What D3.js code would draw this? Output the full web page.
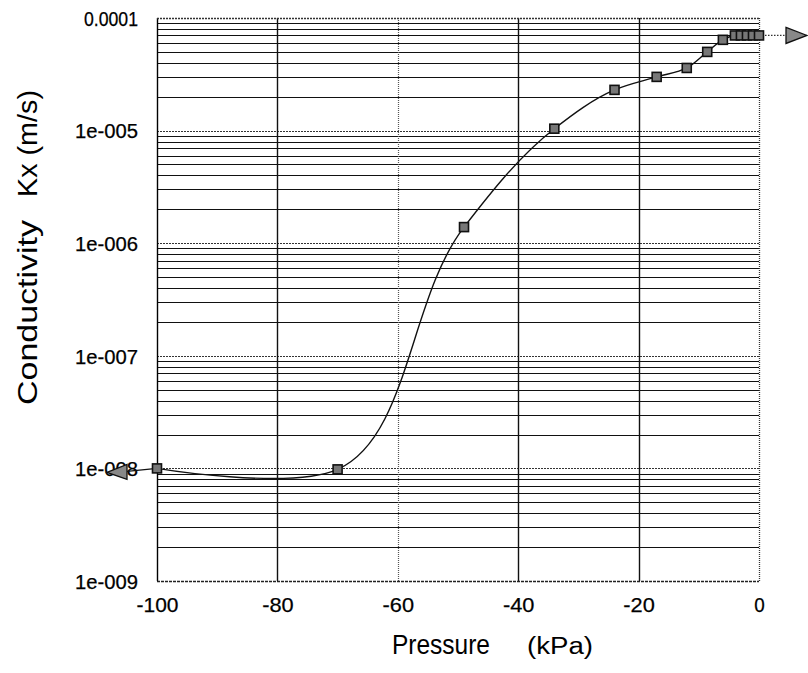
<!DOCTYPE html>
<html><head><meta charset="utf-8">
<script src="https://cdn.jsdelivr.net/npm/d3@7"></script>
<style>
body{margin:0;background:#fff;}
text{font-family:"Liberation Sans",Arial,sans-serif;fill:#000;}
</style></head>
<body><svg id="c" width="808" height="673"></svg>
<script>
// Data
const pressure     = [-100, -70, -49, -34, -24, -17, -12, -8.6, -6, -4, -3, -2, -1, 0];
const conductivity = [1e-8, 9.8e-9, 1.39e-6, 1.04e-5, 2.3e-5, 3.0e-5, 3.6e-5, 5.0e-5, 6.4e-5, 7e-5, 7e-5, 7e-5, 7e-5, 7e-5];
const xTickValues = [-100, -80, -60, -40, -20, 0];
const xTickLabels = ["-100", "-80", "-60", "-40", "-20", "0"];
const yTickValues = [1e-9, 1e-8, 1e-7, 1e-6, 1e-5, 1e-4];
const yTickLabels = ["1e-009", "1e-008", "1e-007", "1e-006", "1e-005", "0.0001"];

const L = 157, R = 759, T = 18, B = 581;
const svg = d3.select("#c");
const x = d3.scaleLinear().domain([-100, 0]).range([L, R]);
const y = d3.scaleLog().domain([1e-9, 1e-4]).range([B, T]);

// horizontal grid (log minor + major)
const minor = [];
for (let e = -9; e < -4; e++) for (let m = 2; m <= 9; m++) minor.push(m * Math.pow(10, e));
const g = svg.append("g");
g.selectAll("line.hm").data(minor).join("line")
  .attr("x1", L).attr("x2", R).attr("y1", d => Math.round(y(d)) + 0.5).attr("y2", d => Math.round(y(d)) + 0.5)
  .attr("stroke", "#111").attr("stroke-width", 1.2);
g.selectAll("line.hM").data(yTickValues.slice(1, -1)).join("line")
  .attr("x1", L).attr("x2", R).attr("y1", d => Math.round(y(d)) + 0.5).attr("y2", d => Math.round(y(d)) + 0.5)
  .attr("stroke", "#333").attr("stroke-width", 1.2).attr("stroke-dasharray", "2,1");
// vertical grid
g.selectAll("line.v").data(xTickValues.slice(1, -1)).join("line")
  .attr("x1", d => Math.round(x(d)) + 0.5).attr("x2", d => Math.round(x(d)) + 0.5)
  .attr("y1", T).attr("y2", B)
  .attr("stroke", d => d === -60 ? "#555" : "#111")
  .attr("stroke-dasharray", d => d === -60 ? "1,1" : null)
  .attr("stroke-width", d => d === -60 ? 1.2 : 1.4);
// frame
g.append("line").attr("x1", L + 0.5).attr("x2", L + 0.5).attr("y1", T).attr("y2", B).attr("stroke", "#000").attr("stroke-width", 1.4);
g.append("line").attr("x1", R + 0.5).attr("x2", R + 0.5).attr("y1", T).attr("y2", B).attr("stroke", "#333").attr("stroke-dasharray", "1,1").attr("stroke-width", 1.3);
g.append("line").attr("x1", L).attr("x2", R).attr("y1", T + 0.5).attr("y2", T + 0.5).attr("stroke", "#333").attr("stroke-dasharray", "2,1").attr("stroke-width", 1.3);
g.append("line").attr("x1", L).attr("x2", R).attr("y1", B + 0.5).attr("y2", B + 0.5).attr("stroke", "#222").attr("stroke-dasharray", "3,1").attr("stroke-width", 1.3);

// axes
const yAxis = svg.append("g").attr("transform", `translate(${L},0)`)
  .call(d3.axisLeft(y).tickValues(yTickValues).tickSize(0).tickPadding(19)
    .tickFormat((d, i) => yTickLabels[i]));
yAxis.select(".domain").remove();
yAxis.selectAll("text").attr("font-size", 20).attr("dy", "0.36em")
  .attr("stroke", "#000").attr("stroke-width", 0.25)
  .attr("textLength", (d, i) => yTickLabels[i] === "0.0001" ? 54 : 63).attr("lengthAdjust", "spacingAndGlyphs");

const xAxis = svg.append("g").attr("transform", `translate(0,${B})`)
  .call(d3.axisBottom(x).tickValues(xTickValues).tickSize(0).tickPadding(0)
    .tickFormat((d, i) => xTickLabels[i]));
xAxis.select(".domain").remove();
xAxis.selectAll("text").attr("font-size", 21).attr("y", 31).attr("dy", 0)
  .attr("stroke", "#000").attr("stroke-width", 0.25)
  .attr("textLength", (d, i) => xTickLabels[i].length * 10.5).attr("lengthAdjust", "spacingAndGlyphs");

// titles
svg.append("text").attr("x", 392).attr("y", 654).attr("font-size", 28)
  .attr("textLength", 98).attr("lengthAdjust", "spacingAndGlyphs").text("Pressure");
svg.append("text").attr("x", 527).attr("y", 654).attr("font-size", 23)
  .attr("textLength", 66).attr("lengthAdjust", "spacingAndGlyphs").text("(kPa)");
svg.append("text").attr("transform", "translate(37,405) rotate(-90)").attr("font-size", 28)
  .attr("textLength", 185).attr("lengthAdjust", "spacingAndGlyphs").text("Conductivity");
svg.append("text").attr("transform", "translate(37,197) rotate(-90)").attr("font-size", 28)
  .attr("textLength", 107).attr("lengthAdjust", "spacingAndGlyphs").text("Kx (m/s)");

// curve
const pts = pressure.map((p, i) => [p, conductivity[i]]);
const line = d3.line().x(d => x(d[0])).y(d => y(d[1])).curve(d3.curveCatmullRom.alpha(1));
svg.append("path").attr("d", line(pts)).attr("fill", "none").attr("stroke", "#111").attr("stroke-width", 1.4);

// end arrows
const first = pts[0], last = pts[pts.length - 1];
const fx = x(first[0]), fy = y(first[1]), lx = x(last[0]), ly = y(last[1]);
svg.append("line").attr("x1", fx - 30).attr("x2", fx).attr("y1", fy + 3).attr("y2", fy)
  .attr("stroke", "#111").attr("stroke-width", 1.3);
svg.append("path").attr("d", `M${fx - 50},${fy + 4} L${fx - 30},${fy - 4} L${fx - 30},${fy + 11} Z`)
  .attr("fill", "#888").attr("stroke", "#111").attr("stroke-width", 1.3);
svg.append("line").attr("x1", lx).attr("x2", lx + 27).attr("y1", ly).attr("y2", ly)
  .attr("stroke", "#333").attr("stroke-width", 1.3).attr("stroke-dasharray", "1.5,1.5");
svg.append("path").attr("d", `M${lx + 27},${ly - 8} L${lx + 48},${ly} L${lx + 27},${ly + 8} Z`)
  .attr("fill", "#888").attr("stroke", "#111").attr("stroke-width", 1.3);

// markers
svg.selectAll("rect.pt").data(pts).join("rect").attr("class", "pt")
  .attr("x", d => x(d[0]) - 4.5).attr("y", d => y(d[1]) - 4.5).attr("width", 9).attr("height", 9)
  .attr("fill", "#777").attr("stroke", "#111").attr("stroke-width", 1.6);
</script></body></html>
